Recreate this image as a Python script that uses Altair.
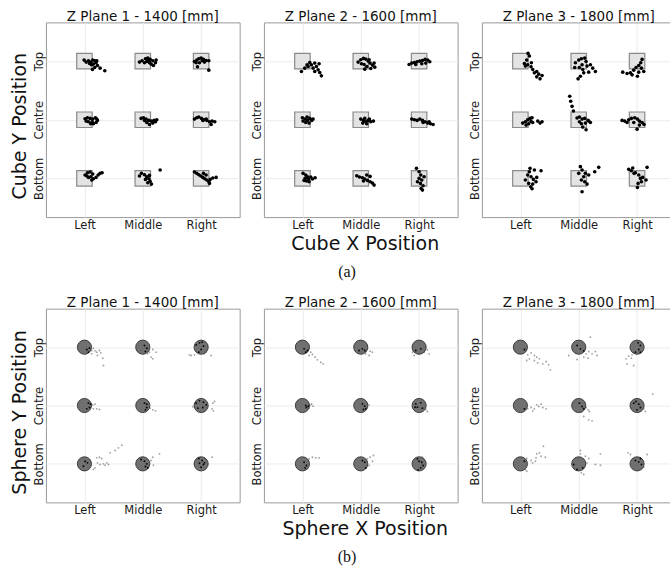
import altair as alt
import pandas as pd

# ---------------- data ----------------
x_labels = ["Left", "Middle", "Right"]
y_labels = ["Bottom", "Centre", "Top"]
plane_titles = ["Z Plane 1 - 1400 [mm]", "Z Plane 2 - 1600 [mm]", "Z Plane 3 - 1800 [mm]"]
x_axis_titles = ["Cube X Position", "Sphere X Position"]
y_axis_titles = ["Cube Y Position", "Sphere Y Position"]
captions = ["(a)", "(b)"]
STEP_MM = 175.0  # distance between neighbouring target positions

# Each list: 9 clusters of (dx, dy) errors in mm (dy positive = downward),
# order: Top-Left, Top-Middle, Top-Right, Centre-L/M/R, Bottom-L/M/R
cube_p1 = [
    [(-1,-3),(5,3),(12,-1),(19,3),(25,-3),(31,-1),(35,5),(27,9),(21,11),(24,25),(31,19),(39,13),(47,21),(61,29),(15,7),(37,-1)],
    [(-10,3),(-2,-1),(8,-7),(15,-9),(22,-5),(30,-1),(38,5),(32,13),(20,5),(12,1),(5,5),(25,9),(40,-3),(18,-2)],
    [(-20,1),(-13,-3),(-7,-7),(0,-9),(7,-5),(15,-2),(23,-1),(10,3),(-5,5),(-11,17),(23,27),(3,-1),(-15,5)],
    [(2,-3),(9,-6),(17,-4),(25,-2),(33,-6),(39,2),(35,8),(23,6),(12,6),(5,4),(19,12),(27,12),(37,-2)],
    [(-5,-4),(2,-6),(10,-2),(18,2),(26,4),(34,2),(42,0),(30,10),(20,14),(12,8),(5,2),(38,6)],
    [(-20,-2),(-13,-6),(-7,-8),(1,-4),(9,0),(17,2),(25,6),(33,4),(41,6),(30,14),(15,-2),(5,2)],
    [(2,-10),(9,-17),(17,-19),(25,-13),(19,-5),(12,-3),(27,1),(35,-3),(41,-10),(47,-15),(53,-17),(22,5),(7,-7)],
    [(-10,-7),(-4,-15),(5,-11),(12,-5),(18,1),(22,9),(26,17),(15,13),(8,3),(52,-25),(20,-9)],
    [(-20,-19),(-13,-15),(-7,-11),(-1,-7),(5,-3),(11,1),(17,5),(23,10),(27,3),(35,-1),(45,-3),(15,-10),(7,-15),(25,15)],
]
cube_p2 = [
    [(-3,31),(7,21),(14,11),(22,4),(27,11),(37,6),(42,16),(47,26),(52,34),(57,44),(37,31),(32,21),(17,16),(50,8)],
    [(-8,3),(0,-4),(8,-8),(15,-6),(22,0),(28,6),(35,12),(42,18),(30,22),(18,16),(10,10),(2,8),(25,-4),(40,6),(12,24)],
    [(-30,10),(-22,6),(-14,4),(-6,2),(2,0),(10,-2),(18,-5),(26,-3),(32,2),(20,6),(8,8),(-10,10)],
    [(0,-6),(8,-2),(15,2),(22,-4),(28,2),(20,10),(10,8),(2,4),(32,-2),(14,-8)],
    [(0,-2),(8,2),(15,6),(22,2),(30,6),(18,12),(6,10),(38,4),(12,-4),(26,-2)],
    [(-22,-2),(-14,0),(-6,2),(2,-2),(10,2),(18,6),(26,10),(34,12),(42,14),(30,6),(12,8)],
    [(2,-15),(10,-10),(15,-5),(8,0),(18,2),(25,-4),(30,2),(20,10),(12,8),(38,-2),(5,6)],
    [(-12,-8),(-4,-4),(5,-2),(12,2),(20,6),(28,10),(35,14),(18,-10),(28,-6),(8,8),(40,20)],
    [(-8,-30),(0,-20),(5,-10),(0,0),(8,5),(4,15),(12,22),(6,30),(-5,10),(15,-5),(10,35)],
]
cube_p3 = [
    [(23,-23),(27,-15),(19,-3),(12,7),(22,11),(32,17),(37,25),(49,31),(55,39),(65,43),(59,53),(49,47),(42,35),(33,5),(15,15)],
    [(-10,5),(0,-3),(8,-7),(18,-9),(22,1),(10,11),(2,19),(12,25),(25,15),(35,11),(42,21),(50,31),(30,33),(15,35),(5,45),(-2,53),(-12,19)],
    [(15,-5),(11,5),(5,13),(-3,19),(-10,27),(-20,35),(-30,37),(-43,33),(5,33),(1,45),(20,31),(13,21),(-15,41)],
    [(7,10),(15,6),(22,0),(29,-4),(35,-6),(32,5),(25,12),(17,16),(52,4),(59,10),(65,6),(37,8)],
    [(-27,-70),(-24,-55),(-20,-40),(-16,-26),(-5,-5),(2,-8),(10,-2),(18,-4),(28,2),(35,8),(20,10),(8,12),(12,22),(22,30),(30,4),(2,6)],
    [(-45,2),(-37,4),(-25,0),(-17,-4),(-7,-6),(1,-2),(7,4),(15,8),(21,14),(7,16),(0,28),(-10,8),(-30,8)],
    [(29,-30),(42,-25),(62,-23),(27,-20),(22,-10),(32,-5),(39,3),(47,10),(37,17),(31,25),(35,31),(49,-3),(15,5),(25,15)],
    [(5,-35),(10,-25),(20,-15),(15,-5),(8,5),(18,10),(25,17),(30,-10),(48,-20),(60,-33),(10,40),(0,-15)],
    [(-25,-27),(-17,-23),(-13,-31),(-5,-17),(5,-10),(10,0),(17,-3),(27,5),(13,10),(3,15),(1,27),(30,-33),(-9,-15)],
]
sphere_p1 = [
    [(7,7),(15,3),(22,10),(27,3),(32,11),(37,15),(45,10),(49,17),(55,33),(57,55),(39,25),(22,20),(12,15)],
    [(5,-5),(12,3),(18,9),(8,13),(20,15),(30,7),(40,15),(25,30),(30,35),(15,20)],
    [(-15,-7),(-5,-13),(3,-15),(7,-3),(0,7),(-7,15),(-20,23),(-30,25),(-35,23),(15,15),(30,25),(10,20)],
    [(12,-7),(19,-4),(25,-2),(32,-4),(37,10),(45,12),(27,10),(15,6),(7,10)],
    [(5,-7),(12,-4),(20,-2),(22,8),(30,13),(38,16),(12,6),(8,13)],
    [(-15,-7),(-5,-14),(7,-10),(15,-2),(5,6),(-10,8),(-25,4),(35,-7),(40,-12),(33,10),(37,16)],
    [(2,-8),(9,-3),(-3,7),(37,-18),(45,-20),(52,-16),(39,-3),(47,2),(57,0),(67,-3),(32,12),(27,17),(77,-33),(92,-40),(102,-48),(112,-56),(72,2),(62,4)],
    [(-5,-13),(5,-8),(12,0),(15,12),(8,8),(25,-10),(30,-20),(32,4),(50,-30),(20,-3)],
    [(-7,-16),(3,-10),(7,2),(0,10),(10,-3),(33,-20),(-5,-2)],
]
sphere_p2 = [
    [(5,5),(15,10),(25,15),(30,22),(38,30),(45,38),(55,45),(62,50),(20,25),(10,15)],
    [(5,5),(12,10),(20,5),(28,12),(15,20),(25,25),(35,15),(-5,10)],
    [(-20,15),(-10,10),(5,5),(15,15),(25,8),(-15,25),(0,20),(30,20)],
    [(10,0),(18,2),(25,-2),(32,2),(20,8),(12,6),(28,-5)],
    [(5,-5),(12,2),(20,5),(25,-2),(15,10),(8,12)],
    [(-10,-5),(-5,5),(5,-8),(10,8),(20,12),(25,18),(-12,5)],
    [(5,-5),(12,5),(20,-15),(30,-20),(40,-18),(50,-18),(15,15),(8,12)],
    [(5,-10),(12,-5),(20,-15),(28,-20),(35,-8),(25,5),(15,12),(38,-25)],
    [(-5,-15),(0,-8),(8,-5),(12,5),(5,12),(-3,18),(10,-20)],
]
sphere_p3 = [
    [(12,7),(22,23),(32,17),(42,25),(49,30),(57,35),(52,47),(67,50),(77,43),(85,53),(90,68),(42,40),(27,35),(19,40)],
    [(-5,-5),(5,5),(15,11),(22,20),(30,13),(40,20),(50,13),(35,-30),(-30,25),(-5,37),(15,30),(28,33),(55,25)],
    [(3,-13),(10,-5),(5,7),(-5,15),(-15,23),(-25,27),(-33,35),(-30,50),(-10,55),(-17,33),(10,15)],
    [(12,10),(22,10),(32,6),(42,10),(49,-2),(55,3),(67,6),(77,10),(62,-4),(37,16)],
    [(2,-7),(10,3),(15,10),(22,6),(28,13),(32,18),(15,33),(30,43),(40,46),(8,20)],
    [(-10,-7),(-3,-12),(5,-4),(10,6),(0,13),(20,10),(25,18),(47,-34)],
    [(12,-8),(19,-16),(32,-10),(37,-3),(45,-8),(49,-30),(57,-33),(69,-53),(75,-20),(47,-18),(15,17),(19,22),(62,-23)],
    [(5,-40),(5,-30),(20,-23),(30,-16),(25,-3),(12,12),(8,27),(15,32),(50,2),(65,4),(65,-30),(-15,2),(-5,17)],
    [(-27,-33),(-20,-28),(-5,-10),(5,-6),(13,2),(20,10),(30,-28),(10,-16)],
]

# ---------------- helpers ----------------
FONT = "DejaVu Sans"
GRID = "#ebebeb"
FRAME = "#9a9a9a"
SPHERE_RADIUS_MM = 20


def to_frame(clusters):
    rows = []
    for k, cl in enumerate(clusters):
        r, c = divmod(k, 3)
        for dx, dy in cl:
            rows.append({"xi": c + 1, "yi": 3 - r, "dx": dx, "dy": dy})
    return pd.DataFrame(rows)


targets = pd.DataFrame([{"xi": c + 1, "yi": r + 1} for r in range(3) for c in range(3)])

x_expr = str([""] + x_labels) + "[datum.value]"
y_expr = str([""] + y_labels) + "[datum.value]"


def panel(clusters, kind, idx):
    last = idx == 2
    w = 188 if last else 194
    h = 195 if kind == 0 else 194
    xscale = alt.Scale(domain=[0.34, 3.5575] if last else [0.34, 3.66], nice=False, zero=False)
    yscale = alt.Scale(domain=[0.34, 3.66], nice=False, zero=False)

    xaxis = alt.Axis(
        values=[1, 2, 3], labelExpr=x_expr, grid=True, gridColor=GRID, gridWidth=1,
        ticks=False, tickSize=0, domain=last, domainColor=FRAME, domainWidth=1,
        labelFont=FONT, labelFontSize=11.5, labelColor="#1a1a1a", labelAngle=0,
        labelBaseline="alphabetic", labelPadding=11, labelAlign="center",
        title=x_axis_titles[kind] if idx == 1 else None,
        titleFont=FONT, titleFontSize=19, titleFontWeight="normal", titleColor="#111",
        titleBaseline="alphabetic", titleAlign="center", titleX=101, titleY=32,
    )
    yaxis = alt.Axis(
        values=[1, 2, 3], labelExpr=y_expr, grid=True, gridColor=GRID, gridWidth=1,
        ticks=False, tickSize=0, domain=last, domainColor=FRAME, domainWidth=1,
        labelFont=FONT, labelFontSize=11.5, labelColor="#1a1a1a", labelAngle=270,
        labelAlign="center", labelBaseline="alphabetic", labelPadding=3,
        title=y_axis_titles[kind] if idx == 0 else None,
        titleFont=FONT, titleFontSize=19, titleFontWeight="normal", titleColor="#111",
        titleAngle=270, titleAlign="center", titleBaseline="alphabetic",
        titleX=-20, titleY=103.5,
    )

    if kind == 0:
        tmark = alt.Chart(targets).mark_square(size=240, fill="#e3e3e3", stroke="#8a8a8a",
                                               strokeWidth=1.2, opacity=1)
        pmark = alt.Chart(to_frame(clusters)).mark_circle(size=13, color="black", opacity=1)
        extra = {}
    else:
        tmark = alt.Chart(targets).mark_circle(size=200, fill="#707070", stroke="#3c3c3c",
                                               strokeWidth=1, opacity=1)
        pmark = alt.Chart(to_frame(clusters)).mark_circle(size=3.5)
        inside = f"sqrt(datum.dx*datum.dx + datum.dy*datum.dy) < {SPHERE_RADIUS_MM}"
        extra = dict(
            color=alt.condition(inside, alt.value("#000000"), alt.value("#555555")),
            opacity=alt.condition(inside, alt.value(0.95), alt.value(0.55)),
        )

    if last:
        top_axis = alt.Axis(orient="top", labels=False, ticks=False, grid=False, domain=True,
                            domainColor=FRAME, domainWidth=1, title=None)
        tlayer = tmark.encode(x=alt.X("xi:Q", scale=xscale, axis=top_axis),
                              y=alt.Y("yi:Q", scale=yscale, axis=yaxis))
    else:
        tlayer = tmark.encode(x=alt.X("xi:Q", scale=xscale, axis=xaxis),
                              y=alt.Y("yi:Q", scale=yscale, axis=yaxis))

    player = pmark.transform_calculate(
        px=f"datum.xi + datum.dx / {STEP_MM}",
        py=f"datum.yi - datum.dy / {STEP_MM}",
    ).encode(x=alt.X("px:Q", scale=xscale, axis=xaxis),
             y=alt.Y("py:Q", scale=yscale, axis=yaxis), **extra)

    title = alt.Title(plane_titles[idx], font=FONT, fontSize=13.5, fontWeight="normal",
                      color="#111", baseline="bottom", offset=-15, anchor="middle",
                      dx=3 if last else 0)
    ch = alt.layer(tlayer, player).properties(width=w, height=h, title=title)
    if last:
        ch = ch.resolve_axis(x="independent").properties(view=alt.ViewBackground(strokeOpacity=0))
    return ch


def row(kind, lists):
    return alt.hconcat(
        *[panel(lists[i], kind, i) for i in range(3)], spacing=24.3, bounds="flush",
        title=alt.Title(captions[kind], orient="bottom", font="Liberation Serif", fontSize=16,
                        fontWeight="normal", color="#111", anchor="middle", dx=7, offset=10,
                        baseline="top"),
    )


chart = alt.vconcat(
    row(0, [cube_p1, cube_p2, cube_p3]),
    row(1, [sphere_p1, sphere_p2, sphere_p3]),
    spacing=15.7,
).properties(
    padding={"left": 10, "top": 9, "right": 0, "bottom": 2},
    background="white",
).configure_view(stroke=FRAME, strokeWidth=1)

chart.save("out.html", embed_options={"renderer": "svg", "actions": False})
